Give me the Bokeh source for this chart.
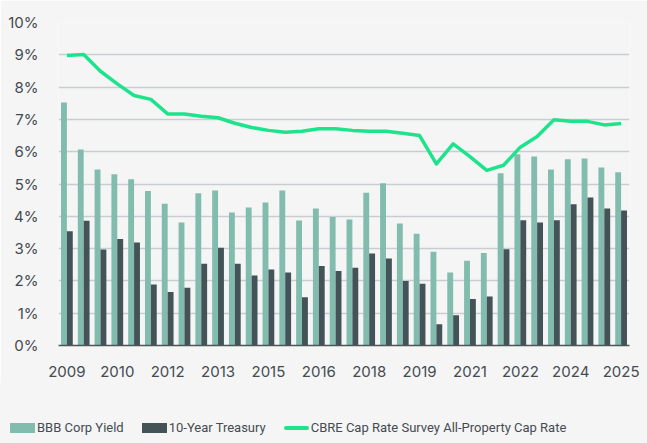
from bokeh.plotting import figure
from bokeh.models import Range1d, FixedTicker, ColumnDataSource, Div
from bokeh.layouts import column
from bokeh.embed import file_html
from bokeh.resources import INLINE

# ---- data (semiannual periods, 2009 H1 .. 2025 H2) ----
periods = [f"{y} H{h}" for y in range(2009, 2026) for h in (1, 2)]
bbb_corp_yield = [7.52, 6.07, 5.45, 5.30, 5.15, 4.78, 4.39, 3.81, 4.71, 4.80,
                  4.12, 4.27, 4.43, 4.80, 3.87, 4.24, 3.98, 3.90, 4.73, 5.02,
                  3.78, 3.46, 2.90, 2.26, 2.62, 2.86, 5.33, 5.92, 5.85, 5.45,
                  5.77, 5.79, 5.51, 5.36]
treasury_10y = [3.54, 3.86, 2.97, 3.30, 3.19, 1.89, 1.66, 1.79, 2.53, 3.03,
                2.53, 2.17, 2.35, 2.26, 1.49, 2.46, 2.31, 2.41, 2.85, 2.69,
                2.00, 1.91, 0.66, 0.94, 1.44, 1.52, 2.98, 3.88, 3.81, 3.88,
                4.37, 4.58, 4.24, 4.18]
cap_rate = [8.98, 9.01, 8.49, 8.10, 7.74, 7.62, 7.17, 7.17, 7.10, 7.05,
            6.88, 6.75, 6.66, 6.60, 6.63, 6.71, 6.71, 6.66, 6.63, 6.63,
            6.57, 6.50, 5.62, 6.24, 5.85, 5.42, 5.58, 6.14, 6.47, 6.99,
            6.94, 6.94, 6.83, 6.87]
series_names = ["BBB Corp Yield", "10-Year Treasury",
                "CBRE Cap Rate Survey All-Property Cap Rate"]
x_tick_positions = list(range(0, 34, 3))
x_tick_labels = ["2009", "2010", "2012", "2013", "2015", "2016",
                 "2018", "2019", "2021", "2022", "2024", "2025"]
y_ticks = list(range(0, 11))
y_tick_labels = [f"{v}%" for v in y_ticks]

idx = list(range(len(periods)))
src = ColumnDataSource(dict(
    i=idx,
    i_l=[v - 0.175 for v in idx],
    i_r=[v + 0.175 for v in idx],
    bbb=bbb_corp_yield, tsy=treasury_10y, cap=cap_rate,
))

BG = "#f5f5f5"
FONT = "Inter"
TXT = "#444b52"
C_BBB = "#82bcae"
C_TSY = "#435357"
C_CAP = "#1de48c"

p = figure(width=647, height=383, output_backend="svg", toolbar_location=None,
           x_range=Range1d(-0.5, 33.5), y_range=Range1d(0, 10),
           background_fill_color=BG, border_fill_color=BG,
           min_border_left=58, min_border_right=18, min_border_top=22,
           min_border_bottom=38, margin=0)
p.outline_line_color = None

p.vbar(x="i_l", top="bbb", width=0.35, source=src, fill_color=C_BBB, line_color=None)
p.vbar(x="i_r", top="tsy", width=0.35, source=src, fill_color=C_TSY, line_color=None)
p.line(x="i", y="cap", source=src, line_color=C_CAP, line_width=3.5, line_join="round")

p.xgrid.grid_line_color = None
p.ygrid.grid_line_color = "#c9cdd1"
p.ygrid.grid_line_width = 1.5
p.ygrid.ticker = FixedTicker(ticks=y_ticks)

xa = p.xaxis[0]
xa.ticker = FixedTicker(ticks=x_tick_positions)
xa.major_label_overrides = {k: v for k, v in zip(x_tick_positions, x_tick_labels)}
xa.major_tick_line_color = None
xa.minor_tick_line_color = None
xa.axis_line_color = "#4d5559"
xa.axis_line_width = 1.5
xa.major_label_text_font = FONT
xa.major_label_text_font_size = "15px"
xa.major_label_text_color = TXT
xa.major_label_standoff = 14

ya = p.yaxis[0]
ya.ticker = FixedTicker(ticks=y_ticks)
ya.major_label_overrides = {k: v for k, v in zip(y_ticks, y_tick_labels)}
ya.major_tick_line_color = None
ya.minor_tick_line_color = None
ya.axis_line_color = None
ya.major_label_text_font = FONT
ya.major_label_text_font_size = "15px"
ya.major_label_text_color = TXT
ya.major_label_standoff = 14

# ---- legend strip below the chart (HTML) ----
swatches = [
    f"width:25px;height:10px;background:{C_BBB};",
    f"width:25px;height:10px;background:{C_TSY};",
    f"width:25px;height:4px;border-radius:2px;background:{C_CAP};",
]
items_html = "".join(
    f'<span style="display:inline-block;{sw}margin-right:2px;"></span>'
    f'<span style="margin-right:18px;">{name}</span>'
    for sw, name in zip(swatches, series_names)
)
legend_html = (
    f'<div style="display:flex;align-items:center;height:16px;margin-top:37px;'
    f'padding-left:10px;font-family:Roboto;font-size:13px;color:{TXT};'
    f'white-space:nowrap;">{items_html}</div>'
)
lg = Div(text=legend_html, width=647, height=60, margin=0,
         styles={"background-color": BG})

layout = column(p, lg, spacing=0)
open("out.html", "w").write(file_html(layout, INLINE))
